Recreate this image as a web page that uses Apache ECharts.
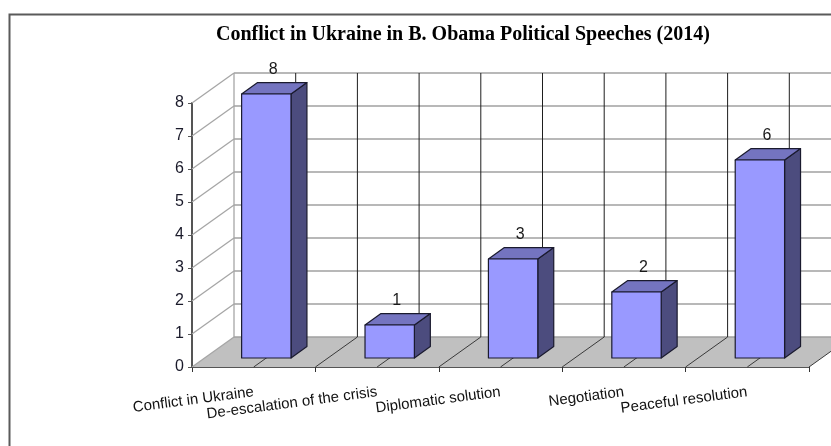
<!DOCTYPE html>
<html>
<head>
<meta charset="utf-8">
<script src="https://cdn.jsdelivr.net/npm/echarts@6/dist/echarts.min.js"></script>
<style>
html,body{margin:0;padding:0;background:#fff;}
#chart{width:831px;height:446px;}
</style>
</head>
<body>
<div id="chart"></div>
<script>
// ---- data ----
const titleText = 'Conflict in Ukraine in B. Obama Political Speeches (2014)';
const categories = ['Conflict in Ukraine', 'De-escalation of the crisis', 'Diplomatic solution', 'Negotiation', 'Peaceful resolution'];
const values = [8, 1, 3, 2, 6];
const yTicks = [0, 1, 2, 3, 4, 5, 6, 7, 8];

// ---- 3D projection style ----
const DX = 42, DY = -30;          // full depth offset of back wall
const BAR_W = 0.4;                // bar width as fraction of band
const D0 = 0.3, D1 = 0.68;        // bar depth start / end (fraction of full depth)
const Y_MAX = 8;

const chart = echarts.init(document.getElementById('chart'), null, {renderer: 'canvas'});

function floorItem(params, api) {
  const cs = params.coordSys;
  const y0 = api.coord([0, 0])[1];
  const l = cs.x, r = cs.x + cs.width;
  return {
    type: 'polygon',
    shape: {points: [[l, y0], [r, y0], [r + DX, y0 + DY], [l + DX, y0 + DY]]},
    style: {fill: '#C0C0C0', stroke: null}
  };
}

function wallItem(params, api) {
  const cs = params.coordSys;
  const v = api.value(0);
  const y = api.coord([0, v])[1];
  const l = cs.x, r = cs.x + cs.width;
  return {
    type: 'group',
    children: [
      {type: 'line', shape: {x1: l, y1: y, x2: l + DX, y2: y + DY},
        style: {stroke: '#A6A6A6', lineWidth: 1.3}},
      {type: 'line', shape: {x1: l + DX, y1: y + DY, x2: r + DX, y2: y + DY},
        style: {stroke: '#A0A0A0', lineWidth: 1.6}}
    ]
  };
}

function vertItem(params, api) {
  const i = api.value(0);
  const c = api.coord([i, 0]);
  const yTop = api.coord([i, Y_MAX])[1];
  const band = api.size([1, 0])[0];
  const y0 = c[1];
  const xs = [c[0] - band / 2, c[0]];
  if (i === categories.length - 1) xs.push(c[0] + band / 2);
  const children = [];
  xs.forEach((x, k) => {
    const isLeftEdge = (i === 0 && k === 0);
    children.push({type: 'line', shape: {x1: x + DX, y1: y0 + DY, x2: x + DX, y2: yTop + DY},
      style: {stroke: isLeftEdge ? '#A6A6A6' : '#1E1E1E', lineWidth: isLeftEdge ? 1.3 : 1}});
    if (!isLeftEdge) {
      children.push({type: 'line', shape: {x1: x, y1: y0, x2: x + DX, y2: y0 + DY},
        style: {stroke: '#3A3A3A', lineWidth: 1}});
    }
  });
  return {type: 'group', children: children};
}

function barItem(params, api) {
  const i = api.value(0), v = api.value(1);
  const base = api.coord([i, 0]);
  const top = api.coord([i, v]);
  const band = api.size([1, 0])[0];
  const w = band * BAR_W;
  const ox = DX * D0, oy = DY * D0;
  const ddx = DX * (D1 - D0), ddy = DY * (D1 - D0);
  const xL = base[0] + ox - w / 2, xR = base[0] + ox + w / 2;
  const yB = base[1] + oy, yT = top[1] + oy;
  const stroke = {stroke: '#1A1A2E', lineWidth: 1.2, lineJoin: 'round'};
  return {
    type: 'group',
    children: [
      {type: 'polygon', shape: {points: [[xR, yB], [xR + ddx, yB + ddy], [xR + ddx, yT + ddy], [xR, yT]]},
        style: Object.assign({fill: '#4C4C7E'}, stroke)},
      {type: 'polygon', shape: {points: [[xL, yT], [xR, yT], [xR + ddx, yT + ddy], [xL + ddx, yT + ddy]]},
        style: Object.assign({fill: '#7474C0'}, stroke)},
      {type: 'rect', shape: {x: xL, y: yT, width: w, height: yB - yT},
        style: Object.assign({fill: '#9999FF'}, stroke)},
      {type: 'text', x: base[0] + ox + ddx / 2 - 1, y: yT + ddy - 5,
        style: {text: String(v), fill: '#1a1a1a', font: '16px "Liberation Sans", Arial, sans-serif',
          align: 'center', verticalAlign: 'bottom'}}
    ]
  };
}

const option = {
  backgroundColor: '#ffffff',
  animation: false,
  title: {
    text: titleText,
    left: 211, top: 20,
    textStyle: {fontFamily: '"Liberation Serif", "Times New Roman", serif', fontWeight: 'bold', fontSize: 20, color: '#000'}
  },
  graphic: [{
    type: 'rect', left: 7, top: 12, z: 100,
    shape: {width: 900, height: 500},
    style: {fill: null, stroke: '#5A5A5A', lineWidth: 2}
  }],
  grid: {left: 192, right: 22, top: 103, bottom: 79, containLabel: false},
  xAxis: {
    type: 'category',
    data: categories,
    boundaryGap: true,
    axisLine: {show: true, lineStyle: {color: '#555555', width: 2}},
    axisTick: {show: true, length: 5, lineStyle: {color: '#333', width: 1}},
    axisLabel: {interval: 0, rotate: 7.5, margin: 25, fontSize: 15,
      fontFamily: '"Liberation Sans", Arial, sans-serif', color: '#111'},
    splitLine: {show: false}
  },
  yAxis: {
    type: 'value', min: 0, max: Y_MAX, interval: 1,
    data: yTicks,
    axisLine: {show: true, lineStyle: {color: '#555555', width: 2}},
    axisTick: {show: true, length: 4, lineStyle: {color: '#555', width: 1}},
    axisLabel: {margin: 8, fontSize: 16, fontFamily: '"Liberation Sans", Arial, sans-serif', color: '#1a1a2a'},
    splitLine: {show: false}
  },
  series: [
    {type: 'custom', z: 1, silent: true, renderItem: floorItem, data: [[0]], clip: false},
    {type: 'custom', z: 2, silent: true, renderItem: wallItem, data: yTicks.map(v => [v]), clip: false},
    {type: 'custom', z: 3, silent: true, renderItem: vertItem, data: categories.map((c, i) => [i]), clip: false},
    {type: 'custom', z: 4, renderItem: barItem, data: values.map((v, i) => [i, v]), clip: false}
  ]
};
chart.setOption(option);
</script>
</body>
</html>
